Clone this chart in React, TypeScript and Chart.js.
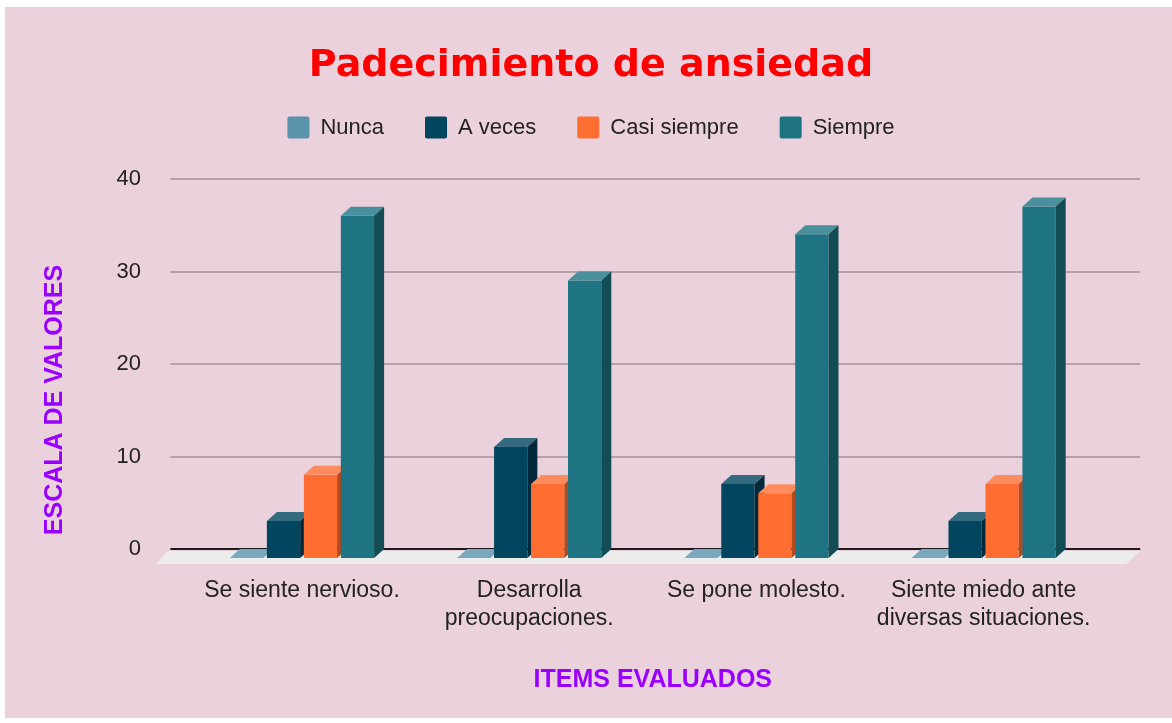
import React, { useEffect, useRef } from "react";
import { Chart, registerables } from "chart.js";

Chart.register(...registerables);

// ---- data ----
const categories: (string | string[])[] = [
  "Se siente nervioso.",
  ["Desarrolla", "preocupaciones."],
  "Se pone molesto.",
  ["Siente miedo ante", "diversas situaciones."],
];
const seriesNames = ["Nunca", "A veces", "Casi siempre", "Siempre"];
const nunca = [0, 0, 0, 0];
const aVeces = [4, 12, 8, 4];
const casiSiempre = [9, 8, 7, 8];
const siempre = [37, 30, 35, 38];
const yMin = 0;
const yMax = 40;
const yStep = 10;

const chartTitle = "Padecimiento de ansiedad";
const xTitle = "ITEMS EVALUADOS";
const yTitle = "ESCALA DE VALORES";

// ---- styles ----
const FRONT = ["#5b93ad", "#01455f", "#ff6d31", "#1e7483"];
const TOP = ["#7aa8bf", "#356b80", "#ff8c5e", "#4a909c"];
const SIDE = ["#3f6f86", "#002a3b", "#b44a1f", "#124c55"];
const BG = "#ead1dc";
const FONT = '"Liberation Sans", Arial, sans-serif';
const DX = 10;
const DY = 9;

const threeD = {
  id: "threeD",
  beforeDraw(chart: any) {
    const { ctx, width, height } = chart;
    ctx.save();
    ctx.fillStyle = BG;
    ctx.fillRect(0, 0, width, height);
    ctx.restore();
  },
  beforeDatasetsDraw(chart: any) {
    const { ctx, chartArea, scales } = chart;
    const ys = scales.y;
    const gl = chartArea.left - 28;
    const gr = chartArea.right + 33;
    ctx.save();
    // grid lines (back wall)
    ctx.strokeStyle = "#b7a1ab";
    ctx.lineWidth = 2;
    ys.ticks.forEach((t: any) => {
      if (t.value === 0) return;
      const py = Math.round(ys.getPixelForValue(t.value));
      ctx.beginPath();
      ctx.moveTo(gl, py);
      ctx.lineTo(gr, py);
      ctx.stroke();
    });
    const base = ys.getPixelForValue(0);
    // floor
    ctx.fillStyle = "#ececec";
    ctx.beginPath();
    ctx.moveTo(gl - 2, base + 2);
    ctx.lineTo(gr, base + 2);
    ctx.lineTo(gr - 14, base + 15);
    ctx.lineTo(gl - 15, base + 15);
    ctx.closePath();
    ctx.fill();
    // zero line
    ctx.strokeStyle = "#1e1a1c";
    ctx.lineWidth = 2;
    ctx.beginPath();
    ctx.moveTo(gl, base);
    ctx.lineTo(gr, base);
    ctx.stroke();
    // 3D bars
    chart.data.datasets.forEach((ds: any, i: number) => {
      if (!chart.isDatasetVisible(i)) return;
      const meta = chart.getDatasetMeta(i);
      meta.data.forEach((el: any) => {
        const p = el.getProps(["x", "y", "base", "width"], true);
        const l = p.x - p.width / 2;
        const r = p.x + p.width / 2;
        const top = p.y;
        const b = p.base;
        // front face
        ctx.fillStyle = FRONT[i];
        ctx.fillRect(l - DX, top + DY, p.width, b - top);
        // top face
        ctx.fillStyle = TOP[i];
        ctx.beginPath();
        ctx.moveTo(l - DX, top + DY);
        ctx.lineTo(r - DX, top + DY);
        ctx.lineTo(r, top);
        ctx.lineTo(l, top);
        ctx.closePath();
        ctx.fill();
        // side face
        if (b - top > 0.5) {
          ctx.fillStyle = SIDE[i];
          ctx.beginPath();
          ctx.moveTo(r - DX, top + DY);
          ctx.lineTo(r, top);
          ctx.lineTo(r, b);
          ctx.lineTo(r - DX, b + DY);
          ctx.closePath();
          ctx.fill();
        }
      });
    });
    ctx.restore();
  },
  beforeDatasetDraw() {
    return false;
  },
  afterDraw(chart: any) {
    const { ctx, chartArea } = chart;
    ctx.save();
    ctx.translate(50, chartArea.bottom - 149);
    ctx.rotate(-Math.PI / 2);
    ctx.font = `bold 25px ${FONT}`;
    ctx.fillStyle = "#9900ff";
    ctx.textAlign = "center";
    ctx.textBaseline = "middle";
    ctx.fillText(yTitle, 0, 0);
    ctx.restore();
  },
};

export default function App() {
  const ref = useRef<HTMLCanvasElement>(null);
  useEffect(() => {
    if (!ref.current) return;
    const values = [nunca, aVeces, casiSiempre, siempre];
    const chart = new Chart(ref.current, {
      type: "bar",
      data: {
        labels: categories as any,
        datasets: seriesNames.map((name, i) => ({
          label: name,
          data: values[i],
          backgroundColor: FRONT[i],
          borderWidth: 0,
          borderRadius: 2,
          categoryPercentage: 0.651,
          barPercentage: 0.9,
        })),
      },
      options: {
        responsive: false,
        animation: false,
        layout: { padding: 0 },
        plugins: {
          title: {
            display: true,
            text: chartTitle,
            color: "#ff0000",
            font: { family: '"DejaVu Sans", sans-serif', size: 38, weight: "bold", lineHeight: 0.4 },
            padding: { top: 51.4, bottom: 1.9 },
          },
          subtitle: {
            display: true,
            text: "",
            weight: 500,
            font: { size: 10, lineHeight: 1.2 },
            padding: { top: 18.5, bottom: 0 },
          } as any,
          legend: {
            display: true,
            position: "top",
            labels: {
              color: "#222222",
              font: { family: FONT, size: 22 },
              boxWidth: 22,
              boxHeight: 22,
              padding: 41,
              useBorderRadius: true,
              borderRadius: 2,
            },
          },
          tooltip: { enabled: false },
        },
        scales: {
          x: {
            type: "category",
            grid: { display: false, drawTicks: false },
            border: { display: false },
            ticks: {
              color: "#222222",
              font: { family: FONT, size: 23 },
              padding: 28,
              labelOffset: -10,
              maxRotation: 0,
              autoSkip: false,
            },
            title: {
              display: true,
              text: xTitle,
              color: "#9900ff",
              font: { family: FONT, size: 25, weight: "bold" },
              padding: { top: 0, bottom: 23 },
            },
            afterFit: (s: any) => {
              s.height = 169;
            },
          },
          y: {
            position: "left",
            min: yMin,
            max: yMax,
            grid: { display: false, drawTicks: false },
            border: { display: false },
            ticks: {
              stepSize: yStep,
              color: "#222222",
              font: { family: FONT, size: 22 },
              padding: 57.4,
            },
            afterFit: (s: any) => {
              s.width = 193.4;
            },
          },
          yRight: {
            position: "right",
            display: true,
            grid: { display: false, drawTicks: false },
            border: { display: false },
            ticks: { display: false },
            afterFit: (s: any) => {
              s.width = 69.8;
            },
          },
        },
      },
      plugins: [threeD],
    });
    return () => chart.destroy();
  }, []);

  return (
    <div
      style={{
        position: "fixed",
        left: 0,
        top: 0,
        width: 1172,
        height: 723,
        overflow: "hidden",
        background: "#ffffff",
      }}
    >
      <div style={{ position: "absolute", left: 5, top: 7, width: 1172, height: 711 }}>
        <canvas ref={ref} width={1172} height={711} style={{ display: "block", width: 1172, height: 711 }} />
      </div>
    </div>
  );
}
